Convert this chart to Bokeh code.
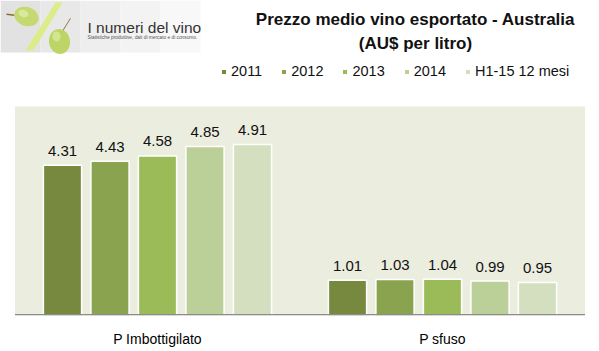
import math
from bokeh.plotting import figure
from bokeh.models import (FactorRange, Range1d, ColumnDataSource, LabelSet, Label,
                          Legend, LegendItem, BoxAnnotation, PolyAnnotation)
from bokeh.transform import dodge
from bokeh.core.properties import value
from bokeh.embed import file_html
from bokeh.resources import INLINE

# ---- data ----
categories = ["P Imbottigilato", "P sfuso"]
series = ["2011", "2012", "2013", "2014", "H1-15 12 mesi"]
v2011 = [4.31, 1.01]
v2012 = [4.43, 1.03]
v2013 = [4.58, 1.04]
v2014 = [4.85, 0.99]
vH115 = [4.91, 0.95]
values = [v2011, v2012, v2013, v2014, vH115]
colors = ["#76893F", "#89A34E", "#9BBB59", "#BBCF98", "#D3DFBE"]
y_max = 6

title1 = "Prezzo medio vino esportato - Australia"
title2 = "(AU$ per litro)"

W, H = 599, 351
B = 36
FH = H - B              # frame height (315)
PLOT_TOP = 106          # pixel row where the shaded plot area starts
FONT = "Liberation Sans, Arial, sans-serif"

pad = 14.5 / 285.0
p = figure(width=W, height=H,
           x_range=FactorRange(factors=categories, range_padding=pad,
                               range_padding_units="absolute"),
           y_range=Range1d(0, y_max * FH / (FH - PLOT_TOP)),
           output_backend="svg", toolbar_location=None,
           min_border_left=0, min_border_right=0, min_border_top=0, min_border_bottom=B)
p.outline_line_color = None
p.background_fill_color = "white"
p.border_fill_color = "white"
p.xgrid.visible = False
p.ygrid.visible = False
p.yaxis.visible = False

# shaded plot area
p.add_layout(BoxAnnotation(left=0, right=len(categories), bottom=0, top=y_max,
                           fill_color="#EBEEDF", fill_alpha=1, line_color=None, level="underlay"))

ax = p.xaxis[0]
ax.axis_line_color = None
ax.major_tick_line_color = None
ax.minor_tick_line_color = None
ax.major_label_text_font_size = "14px"
ax.major_label_text_font = FONT
ax.major_label_text_color = "#000000"
ax.major_label_standoff = 9

n = len(series)
step = 1.0 / 6
items = []
for i, (name, vals, col) in enumerate(zip(series, values, colors)):
    off = (i - (n - 1) / 2) * step
    src = ColumnDataSource(dict(cat=categories, v=vals, txt=[f"{x:.2f}" for x in vals]))
    r = p.vbar(x=dodge("cat", off, range=p.x_range), top="v", width=0.134, source=src,
               fill_color=col, line_color="white", line_width=1.5)
    items.append(LegendItem(label=name, renderers=[r]))
    lbl = LabelSet(x=dodge("cat", off, range=p.x_range), y="v", text="txt", source=src,
                   y_offset=9.5, text_align="center", text_baseline="alphabetic",
                   text_font_size="15px", text_font=value(FONT), text_color="#111111")
    p.add_layout(lbl)

# axis line across the shaded area
p.add_layout(BoxAnnotation(left=0, right=len(categories), bottom=0, top=1.5,
                           bottom_units="screen", top_units="screen",
                           fill_color="#8C8C8C", fill_alpha=1, line_color=None))

legend = Legend(items=items, orientation="horizontal", location=(220, FH - 79),
                padding=0, margin=0, spacing=18, label_standoff=4,
                glyph_width=7, glyph_height=7, border_line_color=None,
                background_fill_alpha=0, label_text_font_size="14.5px",
                label_text_font=FONT, label_text_color="#111111")
p.add_layout(legend, "center")

def fy(y):
    return FH - y

# titles
p.add_layout(Label(x=415, y=fy(19), x_units="screen", y_units="screen", text=title1,
                   text_align="center", text_baseline="middle", text_font_size="17px",
                   text_font_style="bold", text_font=FONT, text_color="#111111"))
p.add_layout(Label(x=415, y=fy(43), x_units="screen", y_units="screen", text=title2,
                   text_align="center", text_baseline="middle", text_font_size="17px",
                   text_font_style="bold", text_font=FONT, text_color="#111111"))

# ---- logo (decorative) ----
shades = ["#E2E2E2", "#E8E8E8", "#EEEEEE", "#F3F3F3", "#F8F8F8"]
for k, sh in enumerate(shades):
    p.add_layout(BoxAnnotation(left=k * 40, right=(k + 1) * 40, top=fy(0), bottom=fy(52),
                               left_units="screen", right_units="screen",
                               top_units="screen", bottom_units="screen",
                               fill_color=sh, fill_alpha=1, line_color=None))

def ellipse(cx, cy, rx, ry, rot, color):
    xs, ys = [], []
    for k in range(36):
        t = 2 * math.pi * k / 36
        ex, ey = rx * math.cos(t), ry * math.sin(t)
        xs.append(cx + ex * math.cos(rot) - ey * math.sin(rot))
        ys.append(fy(cy + ex * math.sin(rot) + ey * math.cos(rot)))
    p.add_layout(PolyAnnotation(xs=xs, ys=ys, xs_units="screen", ys_units="screen",
                                fill_color=color, fill_alpha=1, line_color=None))

def stem(x0, y0, x1, y1, w=1.6):
    p.add_layout(PolyAnnotation(xs=[x0, x1, x1, x0], ys=[fy(y0), fy(y1), fy(y1 + w), fy(y0 + w)],
                                xs_units="screen", ys_units="screen",
                                fill_color="#8A6A3A", fill_alpha=1, line_color=None))

stem(6, 13, 14, 14)
ellipse(26, 16, 12.5, 9.5, 0.35, "#C4DA70")
ellipse(23, 13, 5, 3.5, 0.35, "#D9E89C")
p.add_layout(PolyAnnotation(xs=[25, 33, 62, 55], ys=[fy(50), fy(50), fy(2), fy(2)],
                            xs_units="screen", ys_units="screen",
                            fill_color="#DDEC8A", fill_alpha=1, line_color=None))
stem(70, 17, 62, 30, 1.4)
ellipse(59, 41, 10.5, 12.5, -0.15, "#BDD566")
ellipse(56, 36, 4, 5, -0.15, "#D3E58F")

p.add_layout(Label(x=87, y=fy(27), x_units="screen", y_units="screen", text="I numeri del vino",
                   text_align="left", text_baseline="alphabetic", text_font_size="15.5px",
                   text_font=FONT, text_color="#333333"))
p.add_layout(Label(x=87, y=fy(37), x_units="screen", y_units="screen",
                   text="Statistiche produttive, dati di mercato e di consumo.",
                   text_align="left", text_baseline="alphabetic", text_font_size="4.8px",
                   text_font=FONT, text_color="#555555"))

open("out.html", "w").write(file_html(p, INLINE))
